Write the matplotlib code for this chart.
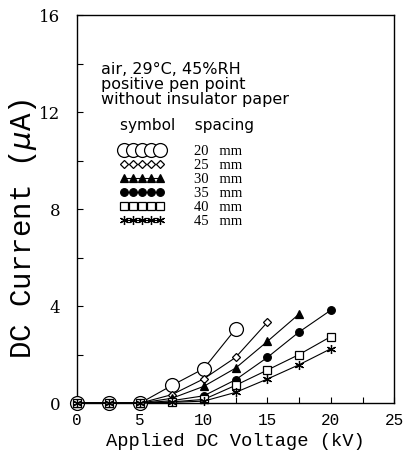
import matplotlib
matplotlib.use('Agg')
import matplotlib.pyplot as plt
from matplotlib.ticker import MultipleLocator

# voltage steps (kV)
volts = [0, 2.5, 5, 7.5, 10, 12.5, 15, 17.5, 20]

# DC current (uA) for each gap spacing
i_20 = [0, 0, 0, 0.73, 1.42, 3.05]
i_25 = [0, 0, 0, 0.35, 1.00, 1.88, 3.33]
i_30 = [0, 0, 0, 0.20, 0.69, 1.44, 2.54, 3.67]
i_35 = [0, 0, 0, 0.10, 0.30, 0.96, 1.88, 2.93, 3.83]
i_40 = [0, 0, 0, 0.05, 0.15, 0.73, 1.36, 2.00, 2.74]
i_45 = [0, 0, 0, 0.03, 0.08, 0.44, 0.99, 1.58, 2.24]

spacings = ['20', '25', '30', '35', '40', '45']
currents = [i_20, i_25, i_30, i_35, i_40, i_45]

# marker, size, filled
styles = [('o', 10, False), ('D', 4, False), ('^', 5.5, True),
          ('o', 5.5, True), ('s', 5.5, False), ((6, 2, 0), 6.5, True)]

fig = plt.figure(figsize=(4.04, 4.57), dpi=100)
ax = fig.add_axes([0.19, 0.118, 0.786, 0.849])

handles = []
for sp, cur, (mk, ms, filled) in zip(spacings, currents, styles):
    ln, = ax.plot(volts[:len(cur)], cur, color='black', lw=0.8,
                  marker=mk, ms=ms, mew=0.9,
                  mfc='black' if filled else 'white', mec='black',
                  clip_on=False, zorder=3)
    handles.append(ln)

ax.set_xlim(0, 25)
ax.set_ylim(0, 16)
ax.xaxis.set_major_locator(MultipleLocator(5))
ax.xaxis.set_minor_locator(MultipleLocator(2.5))
ax.yaxis.set_major_locator(MultipleLocator(4))
ax.yaxis.set_minor_locator(MultipleLocator(2))
ax.tick_params(which='both', direction='in', length=4, width=0.8)
ax.tick_params(axis='x', labelsize=11.5, pad=7)
ax.tick_params(axis='y', labelsize=12, pad=12)
for lab in ax.get_xticklabels():
    lab.set_family('Liberation Mono')
for lab in ax.get_yticklabels():
    lab.set_family('DejaVu Serif')
for s in ax.spines.values():
    s.set_linewidth(1.0)

ax.set_xlabel('Applied DC Voltage (kV)', family='Liberation Mono',
              fontsize=13.5, labelpad=4)
ax.set_ylabel('DC Current ($\\mu$A)', family='Liberation Mono',
              fontsize=21)
ax.yaxis.set_label_coords(-0.118, 0.45)

ax.text(0.075, 0.88, 'air, 29°C, 45%RH\npositive pen point\nwithout insulator paper',
        transform=ax.transAxes, ha='left', va='top', fontsize=11.5,
        family='DejaVu Sans', linespacing=1.0)

labels = [s + '   mm' for s in spacings]
leg = ax.legend(handles, labels, loc='upper left', bbox_to_anchor=(0.135, 0.735),
                frameon=False, numpoints=5, handlelength=3.1, handletextpad=2.0,
                labelspacing=0.05, borderpad=0, borderaxespad=0,
                title='symbol    spacing\n', alignment='left',
                prop={'family': 'Liberation Serif', 'size': 10.5})
leg.get_title().set_fontsize(11)
leg.get_title().set_family('DejaVu Sans')
leg.get_title().set_linespacing(0.7)

fig.savefig('out.png', dpi=100)
